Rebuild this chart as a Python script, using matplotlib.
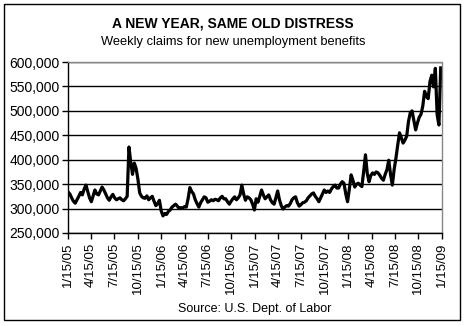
import matplotlib
matplotlib.use("Agg")
import matplotlib.pyplot as plt
import matplotlib.ticker as ticker
import pandas as pd
from matplotlib.patches import Rectangle

plt.rcParams['font.family'] = ['Liberation Sans', 'DejaVu Sans']

# weekly initial claims, thousands (1/15/05 .. 1/15/09)
claims = [
    334, 330, 322, 315, 311, 318, 325, 333, 328, 340, 348, 335, 322,
    314, 326, 338, 330, 328, 336, 344, 338, 330, 322, 317, 324, 329,
    322, 318, 320, 322, 318, 316, 320, 325, 426, 395, 370, 393, 382,
    360, 332, 325, 322, 321, 326, 318, 322, 325, 315, 306, 310, 317,
    295, 285, 290, 288, 294, 297, 303, 306, 309, 305, 300, 302, 301,
    304, 303, 320, 343, 335, 330, 318, 310, 303, 312, 318, 324, 322,
    313, 315, 318, 316, 319, 318, 316, 322, 325, 320, 320, 314, 309,
    315, 320, 324, 318, 322, 328, 348, 330, 317, 324, 322, 318, 309,
    297, 320, 313, 325, 338, 328, 320, 324, 328, 318, 312, 309, 322,
    336, 318, 306, 299, 303, 306, 305, 310, 318, 322, 324, 312, 305,
    308, 312, 313, 316, 322, 326, 330, 332, 325, 320, 314, 322, 330,
    338, 333, 336, 333, 340, 345, 348, 342, 342, 350, 355, 352, 330,
    314, 340, 369, 358, 344, 350, 352, 348, 345, 376, 410, 372, 355,
    368, 373, 370, 375, 373, 368, 362, 358, 370, 380, 399, 370, 348,
    380, 403, 430, 455, 445, 434, 440, 448, 478, 496, 500, 480, 461,
    475, 487, 493, 510, 540, 530, 525, 560, 573, 549, 587, 492, 471,
    588,
]
dates = pd.date_range('2005-01-15', periods=len(claims), freq='7D')
tick_dates = pd.date_range('2005-01-01', '2009-01-01', freq='3MS') + pd.Timedelta(days=14)
tick_labels = [f"{d.month}/{d.day}/{d.strftime('%y')}" for d in tick_dates]

fig = plt.figure(figsize=(4.66, 3.26), dpi=100)
fig.patches.append(Rectangle((0.0086, 0.0184), 0.979, 0.969, transform=fig.transFigure,
                             fill=False, edgecolor='black', linewidth=1.0))

ax = fig.add_axes([0.146, 0.2853, 0.8025, 0.5245])
ax.plot(dates, [c * 1000 for c in claims], color='black', linewidth=2.3)

ax.set_ylim(250000, 600000)
ax.set_xlim(pd.Timestamp('2005-01-15'), pd.Timestamp('2009-01-15'))
ax.yaxis.set_major_locator(ticker.MultipleLocator(50000))
ax.yaxis.set_major_formatter(ticker.FuncFormatter(lambda v, p: f"{int(v):,}"))
ax.set_xticks(tick_dates)
ax.set_xticklabels(tick_labels, rotation=90, fontsize=9.5)
ax.tick_params(axis='y', labelsize=10, length=4, width=1, direction='out', pad=2)
ax.tick_params(axis='x', length=4, width=1, direction='out', pad=3)
ax.grid(axis='y', color='black', linewidth=1.0)
ax.set_axisbelow(True)

for s in ['top', 'right']:
    ax.spines[s].set_color('#888888')
    ax.spines[s].set_linestyle((0, (1, 1)))
    ax.spines[s].set_linewidth(1.0)
for s in ['left', 'bottom']:
    ax.spines[s].set_color('black')
    ax.spines[s].set_linewidth(1.0)

fig.text(0.5, 1 - 23 / 326, 'A NEW YEAR, SAME OLD DISTRESS', ha='center', va='center',
         fontsize=10, fontweight='bold')
fig.text(0.5, 1 - 42 / 326, 'Weekly claims for new unemployment benefits', ha='center',
         va='center', fontsize=9.3)
fig.text(255 / 466, 1 - 309 / 326, 'Source: U.S. Dept. of Labor', ha='center', va='center',
         fontsize=9)

fig.savefig('out.png', dpi=100)
